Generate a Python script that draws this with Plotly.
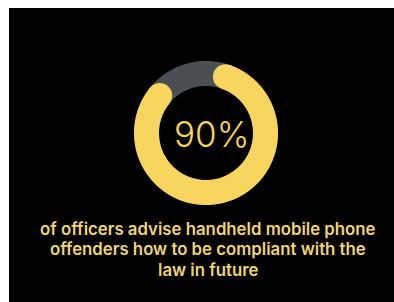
import numpy as np
import plotly.graph_objects as go

# ---- data ----
value_pct = 90
headline = "90%"
caption_lines = [
    "of officers advise handheld mobile phone",
    "offenders how to be compliant with the",
    "law in future",
]

# ---- style ----
W, H = 394, 302
YELLOW = "#F8D55E"
TRACK = "#4B4E53"
TEXT_YELLOW = "#F0D476"
cx, cy = 206, 133          # ring centre (px, from top-left)
mid_r_px = 59.5            # mid radius of ring in px
thick = 25                 # ring thickness in px
r_range = 1.25
start_deg = 7              # where the visible arc starts (clockwise from top)
end_pad = 10               # extra gap at the end of the arc (deg)

axis_r_px = mid_r_px * r_range
cap_deg = np.degrees((thick / 2) / mid_r_px)

fig = go.Figure()

# track
theta_track = np.arange(0, 361, 1)
fig.add_trace(go.Scatterpolar(
    r=[1] * len(theta_track), theta=theta_track, mode="lines",
    line=dict(color=TRACK, width=thick), cliponaxis=False, hoverinfo="skip",
    showlegend=False))

# value arc with round caps
a0 = start_deg + cap_deg
a1 = start_deg + value_pct / 100 * 360 - cap_deg - end_pad
theta_arc = np.linspace(a0, a1, 200)
fig.add_trace(go.Scatterpolar(
    r=[1] * len(theta_arc), theta=theta_arc, mode="lines",
    line=dict(color=YELLOW, width=thick), cliponaxis=False, hoverinfo="skip",
    showlegend=False))
fig.add_trace(go.Scatterpolar(
    r=[1, 1], theta=[a0, a1], mode="markers",
    marker=dict(color=YELLOW, size=thick, line=dict(width=0)),
    cliponaxis=False, hoverinfo="skip", showlegend=False))

annotations = [
    dict(text=headline, xref="paper", yref="paper",
         x=211 / W, y=1 - 134 / H, xanchor="center", yanchor="middle",
         showarrow=False,
         font=dict(family="Inter", size=35, color=YELLOW, weight=300)),
]
line_y0, line_gap = 229, 20.5
for i, line in enumerate(caption_lines):
    annotations.append(dict(
        text=line, xref="paper", yref="paper",
        x=208 / W, y=1 - (line_y0 + i * line_gap) / H,
        xanchor="center", yanchor="middle", showarrow=False,
        font=dict(family="Inter", size=16.8, color=TEXT_YELLOW, weight=600)))

fig.update_layout(
    width=W, height=H,
    margin=dict(l=0, r=0, t=0, b=0),
    paper_bgcolor="white",
    polar=dict(
        domain=dict(x=[(cx - axis_r_px) / W, (cx + axis_r_px) / W],
                    y=[(H - cy - axis_r_px) / H, (H - cy + axis_r_px) / H]),
        bgcolor="rgba(0,0,0,0)",
        radialaxis=dict(visible=False, range=[0, r_range]),
        angularaxis=dict(visible=False, rotation=90, direction="clockwise"),
    ),
    shapes=[dict(type="rect", xref="paper", yref="paper",
                 x0=9 / W, x1=1, y0=0, y1=1 - 8 / H,
                 fillcolor="black", line=dict(width=0), layer="below")],
    annotations=annotations,
)

fig.write_html("out.html",
               config={"displayModeBar": False},
               post_script="document.body.style.margin='0';")
